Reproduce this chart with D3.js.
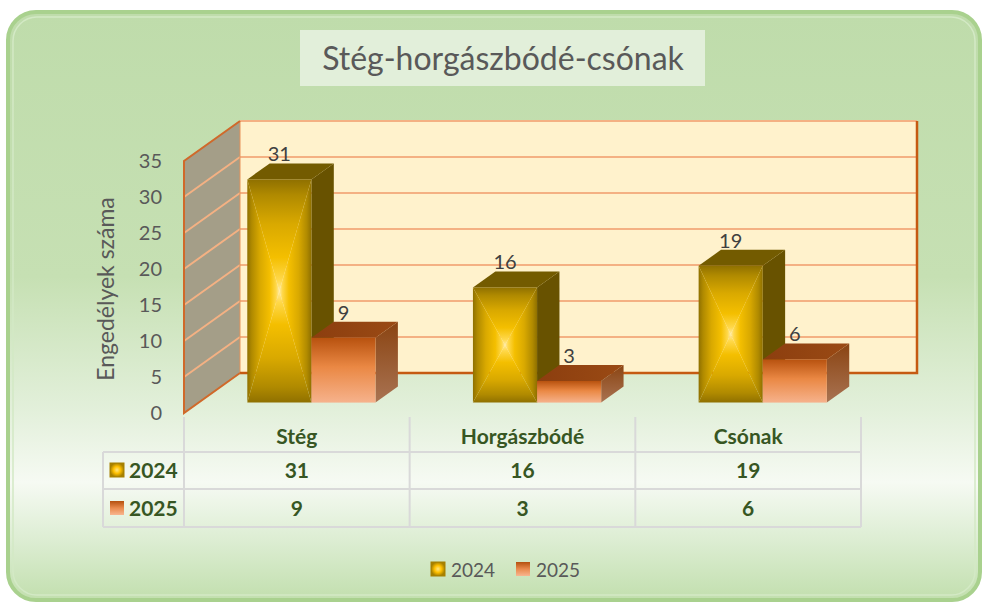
<!DOCTYPE html>
<html>
<head>
<meta charset="utf-8">
<script src="https://cdn.jsdelivr.net/npm/d3@7"></script>
<style>
  html, body { margin: 0; padding: 0; background: #ffffff; }
  svg { display: block; }
</style>
</head>
<body>
<script>
// ---- data ----
const categories = ["Stég", "Horgászbódé", "Csónak"];
const seriesNames = ["2024", "2025"];
const values2024 = [31, 16, 19];
const values2025 = [9, 3, 6];
const yTicks = [0, 5, 10, 15, 20, 25, 30, 35];
const chartTitle = "Stég-horgászbódé-csónak";
const axisTitle = "Engedélyek száma";

const seriesValues = { "2024": values2024, "2025": values2025 };

// ---- layout ----
const W = 982, H = 605;
const FONT = "Lato, 'Open Sans', 'DejaVu Sans', sans-serif";
const DX = 56, DY = -40;          // oblique depth vector (front plane -> back wall)
const T0 = 0.26, T1 = 0.66;       // bar depth span

const svg = d3.select("body").append("svg")
  .attr("width", W).attr("height", H)
  .attr("viewBox", `0 0 ${W} ${H}`);

const defs = svg.append("defs");

function linGrad(id, x1, y1, x2, y2, stops) {
  const g = defs.append("linearGradient").attr("id", id)
    .attr("x1", x1).attr("y1", y1).attr("x2", x2).attr("y2", y2);
  stops.forEach(([o, c]) => g.append("stop").attr("offset", o).attr("stop-color", c));
  return g;
}

// background of the chart area
linGrad("bgGrad", 0, 0, 0, 1, [
  [0, "#bfdcab"], [0.45, "#c6e0b3"], [0.68, "#e3f0db"], [0.8, "#f6faf3"],
  [0.9, "#dcedd2"], [1, "#c2dfae"]
]);

// gold rectangular gradient, built from four edge-to-centre ramps
const goldStops = [[0, "#8f7000"], [0.14, "#b08a00"], [0.4, "#d9a900"], [0.7, "#f4bf00"], [0.9, "#ffd84a"], [1, "#ffeaa0"]];
linGrad("goldL", 0, 0, 1, 0, goldStops);
linGrad("goldR", 1, 0, 0, 0, goldStops);
linGrad("goldT", 0, 0, 0, 1, goldStops);
linGrad("goldB", 0, 1, 0, 0, goldStops);

// orange vertical gradient
linGrad("orangeFront", 0, 0, 0, 1, [[0, "#b8520f"], [0.45, "#ea8844"], [1, "#f6b28c"]]);
linGrad("orangeSide", 0, 0, 0, 1, [[0, "#8a4412"], [1, "#a97352"]]);
linGrad("orangeTop", 0, 0, 1, 0, [[0, "#8c3e0f"], [1, "#9a4a14"]]);
linGrad("orangeKey", 0, 0, 0, 1, [[0, "#b4500f"], [0.5, "#e98a4d"], [1, "#f8b690"]]);

// ---- frame ----
svg.append("rect")
  .attr("x", 8).attr("y", 12).attr("width", 972).attr("height", 588)
  .attr("rx", 28).attr("ry", 28)
  .attr("fill", "url(#bgGrad)")
  .attr("stroke", "#a9d18e").attr("stroke-width", 4);
svg.append("rect")
  .attr("x", 13).attr("y", 17).attr("width", 962).attr("height", 578)
  .attr("rx", 24).attr("ry", 24)
  .attr("fill", "none")
  .attr("stroke", "#d3e9c5").attr("stroke-width", 1.5);

// ---- title ----
svg.append("rect")
  .attr("x", 300).attr("y", 30).attr("width", 405).attr("height", 56)
  .attr("fill", "#e2efda");
svg.append("text")
  .attr("x", 503).attr("y", 70)
  .attr("text-anchor", "middle")
  .attr("font-family", FONT).attr("font-size", 32)
  .attr("fill", "#595959")
  .text(chartTitle);

// ---- scales ----
const x = d3.scaleBand().domain(categories).range([184, 861]);
const xs = d3.scaleBand().domain(seriesNames).range([0, x.bandwidth()])
  .paddingInner(0).paddingOuter(0.76);
const y = d3.scaleLinear().domain([0, 35]).range([413, 161]);

const P = (xf, yf, t) => [xf + t * DX, yf + t * DY];
const pts = arr => arr.map(p => p.join(",")).join(" ");

const plot = svg.append("g");
const xL = x.range()[0], xR = x.range()[1];
const yTop = y(yTicks[yTicks.length - 1]), yBot = y(0);

// side wall
plot.append("polygon")
  .attr("points", pts([P(xL, yBot, 0), P(xL, yTop, 0), P(xL, yTop, 1), P(xL, yBot, 1)]))
  .attr("fill", "#a49e88");
// back wall
const bTL = P(xL, yTop, 1), bBR = P(xR, yBot, 1);
plot.append("rect")
  .attr("x", bTL[0]).attr("y", bTL[1])
  .attr("width", bBR[0] - bTL[0]).attr("height", bBR[1] - bTL[1])
  .attr("fill", "#fff2cc");

// gridlines on both walls
const inner = yTicks.slice(1, -1);
plot.selectAll("line.gridBack").data(inner).join("line")
  .attr("class", "gridBack")
  .attr("x1", d => P(xL, y(d), 1)[0]).attr("y1", d => P(xL, y(d), 1)[1])
  .attr("x2", d => P(xR, y(d), 1)[0]).attr("y2", d => P(xR, y(d), 1)[1])
  .attr("stroke", "#f4b183").attr("stroke-width", 2);
plot.selectAll("line.gridSide").data(inner).join("line")
  .attr("class", "gridSide")
  .attr("x1", d => P(xL, y(d), 0)[0]).attr("y1", d => P(xL, y(d), 0)[1])
  .attr("x2", d => P(xL, y(d), 1)[0]).attr("y2", d => P(xL, y(d), 1)[1])
  .attr("stroke", "#f4b183").attr("stroke-width", 2);

// wall edges
plot.append("line")
  .attr("x1", bTL[0]).attr("y1", bTL[1]).attr("x2", bBR[0]).attr("y2", bTL[1])
  .attr("stroke", "#f4b183").attr("stroke-width", 2);
plot.append("line")
  .attr("x1", bTL[0]).attr("y1", bTL[1]).attr("x2", bTL[0]).attr("y2", bBR[1])
  .attr("stroke", "#e7925a").attr("stroke-width", 1);
plot.append("polyline")
  .attr("points", pts([P(xL, yBot, 1), P(xR, yBot, 1), P(xR, yTop, 1)]))
  .attr("fill", "none").attr("stroke", "#c55a11").attr("stroke-width", 2.5);
plot.append("polyline")
  .attr("points", pts([P(xL, yBot, 1), P(xL, yBot, 0), P(xL, yTop, 0), P(xL, yTop, 1)]))
  .attr("fill", "none").attr("stroke", "#d0692a").attr("stroke-width", 2);

// ---- bars ----
const bars = [];
categories.forEach((c, i) => {
  seriesNames.forEach(s => bars.push({ cat: c, series: s, value: seriesValues[s][i] }));
});

function drawBar(g, d) {
  const xf0 = x(d.cat) + xs(d.series), w = xs.bandwidth();
  const yv = y(d.value), y0 = y(0);
  const fTL = P(xf0, yv, T0), fTR = P(xf0 + w, yv, T0);
  const fBR = P(xf0 + w, y0, T0), fBL = P(xf0, y0, T0);
  const bTL_ = P(xf0, yv, T1), bTR_ = P(xf0 + w, yv, T1), bBR_ = P(xf0 + w, y0, T1);
  const gold = d.series === "2024";

  // right side face
  g.append("polygon").attr("points", pts([fTR, bTR_, bBR_, fBR]))
    .attr("fill", gold ? "#685200" : "url(#orangeSide)");
  // top face
  g.append("polygon").attr("points", pts([fTL, bTL_, bTR_, fTR]))
    .attr("fill", gold ? "#735b00" : "url(#orangeTop)");
  // front face
  if (gold) {
    const c = [(fTL[0] + fTR[0]) / 2, (fTL[1] + fBL[1]) / 2];
    g.append("polygon").attr("points", pts([fTL, fBL, c])).attr("fill", "url(#goldL)");
    g.append("polygon").attr("points", pts([fTR, fBR, c])).attr("fill", "url(#goldR)");
    g.append("polygon").attr("points", pts([fTL, fTR, c])).attr("fill", "url(#goldT)");
    g.append("polygon").attr("points", pts([fBL, fBR, c])).attr("fill", "url(#goldB)");
  } else {
    g.append("rect")
      .attr("x", fTL[0]).attr("y", fTL[1])
      .attr("width", fTR[0] - fTL[0]).attr("height", fBL[1] - fTL[1])
      .attr("fill", "url(#orangeFront)");
  }
  // value label
  g.append("text")
    .attr("x", (fTL[0] + fTR[0]) / 2)
    .attr("y", bTL_[1] - 2)
    .attr("text-anchor", "middle")
    .attr("font-family", FONT).attr("font-size", 20)
    .attr("fill", "#404040")
    .text(d.value);
}

const barLayer = plot.append("g");
bars.forEach(d => drawBar(barLayer.append("g"), d));

// ---- value axis ----
const yAxis = d3.axisLeft(y).tickValues(yTicks).tickSize(0).tickPadding(22);
const axG = svg.append("g").attr("transform", `translate(${xL},0)`).call(yAxis);
axG.select(".domain").remove();
axG.selectAll("text")
  .attr("font-family", FONT).attr("font-size", 20).attr("fill", "#595959");

svg.append("text")
  .attr("transform", `translate(114,${(yTop + yBot) / 2 + 2}) rotate(-90)`)
  .attr("text-anchor", "middle")
  .attr("font-family", FONT).attr("font-size", 23)
  .attr("fill", "#595959")
  .text(axisTitle);

// ---- data table ----
const tbl = svg.append("g");
const rowTop = 417, rowH = [35, 37, 38];
const rowY = [rowTop, rowTop + rowH[0], rowTop + rowH[0] + rowH[1], rowTop + rowH[0] + rowH[1] + rowH[2]];
const tblLeft = 103;
const gridColor = "#d9d9d9";
const colEdges = [xL, ...categories.map(c => x(c) + x.bandwidth())];

tbl.selectAll("line.col").data(colEdges).join("line")
  .attr("x1", d => d).attr("x2", d => d)
  .attr("y1", rowY[0]).attr("y2", rowY[3])
  .attr("stroke", gridColor).attr("stroke-width", 2);
tbl.append("line")
  .attr("x1", tblLeft).attr("x2", tblLeft).attr("y1", rowY[1]).attr("y2", rowY[3])
  .attr("stroke", gridColor).attr("stroke-width", 2);
tbl.selectAll("line.row").data(rowY.slice(1)).join("line")
  .attr("x1", tblLeft).attr("x2", xR)
  .attr("y1", d => d).attr("y2", d => d)
  .attr("stroke", gridColor).attr("stroke-width", 2);

const tblFont = { family: FONT, size: 21, color: "#375623" };
tbl.selectAll("text.head").data(categories).join("text")
  .attr("x", d => x(d) + x.bandwidth() / 2).attr("y", 444)
  .attr("text-anchor", "middle")
  .attr("font-family", tblFont.family).attr("font-size", tblFont.size)
  .attr("font-weight", "bold").attr("fill", tblFont.color)
  .text(d => d);

const rowBaselines = [478, 516];
seriesNames.forEach((s, r) => {
  tbl.selectAll(`text.v${s}`).data(seriesValues[s]).join("text")
    .attr("x", (d, i) => x(categories[i]) + x.bandwidth() / 2)
    .attr("y", rowBaselines[r])
    .attr("text-anchor", "middle")
    .attr("font-family", tblFont.family).attr("font-size", tblFont.size)
    .attr("font-weight", "bold").attr("fill", tblFont.color)
    .text(d => d);
  tbl.append("text")
    .attr("x", 129).attr("y", rowBaselines[r])
    .attr("font-family", tblFont.family).attr("font-size", tblFont.size)
    .attr("font-weight", "bold").attr("fill", tblFont.color)
    .text(s);
});

// legend key squares (gold uses a radial approximation of the rectangular fill)
const goldKey = defs.append("radialGradient").attr("id", "goldKey");
[[0, "#ffe680"], [0.5, "#ffc000"], [1, "#a68000"]].forEach(([o, c]) =>
  goldKey.append("stop").attr("offset", o).attr("stop-color", c));

function key(g, s, kx, ky, size) {
  g.append("rect").attr("x", kx).attr("y", ky).attr("width", size).attr("height", size)
    .attr("fill", s === "2024" ? "url(#goldKey)" : "url(#orangeKey)")
    .attr("stroke", s === "2024" ? "#a68000" : "none").attr("stroke-width", 1);
}
key(tbl, "2024", 110, 463, 14);
key(tbl, "2025", 110, 501, 14);

// ---- legend ----
const leg = svg.append("g");
const legX = [431, 516];
seriesNames.forEach((s, i) => {
  key(leg, s, legX[i], 562, 14);
  leg.append("text")
    .attr("x", legX[i] + 20).attr("y", 577)
    .attr("font-family", FONT).attr("font-size", 19)
    .attr("fill", "#595959")
    .text(s);
});
</script>
</body>
</html>
